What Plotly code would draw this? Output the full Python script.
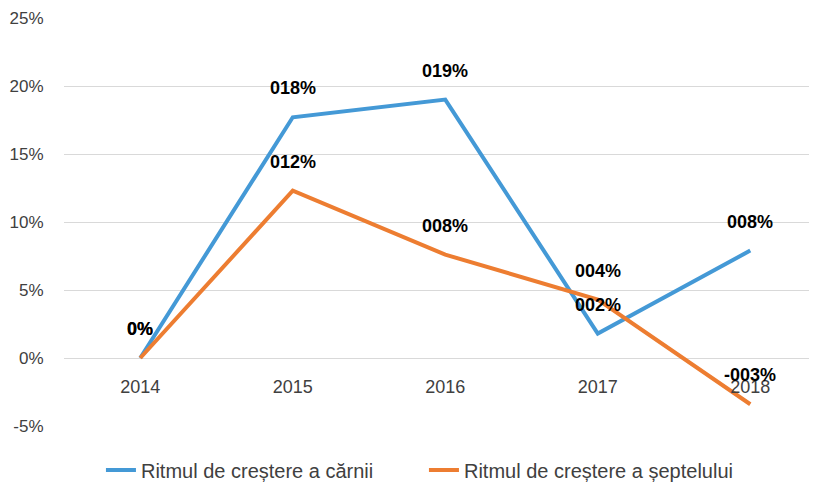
import plotly.graph_objects as go

years = ["2014", "2015", "2016", "2017", "2018"]
meat = [0.0, 17.7, 19.0, 1.8, 7.9]
livestock = [0.0, 12.3, 7.6, 4.3, -3.4]
meat_labels = ["0%", "018%", "019%", "002%", "008%"]
livestock_labels = ["0%", "012%", "008%", "004%", "-003%"]
y_ticks = [-5, 0, 5, 10, 15, 20, 25]
y_tick_text = ["-5%", "0%", "5%", "10%", "15%", "20%", "25%"]

BLUE = "#4499D6"
ORANGE = "#ED7D31"
FONT = "Liberation Sans"

fig = go.Figure()
fig.add_trace(go.Scatter(x=years, y=meat, mode="lines", name="Ritmul de creștere a cărnii",
                         line=dict(color=BLUE, width=4)))
fig.add_trace(go.Scatter(x=years, y=livestock, mode="lines", name="Ritmul de creștere a șeptelului",
                         line=dict(color=ORANGE, width=4)))

for ys, labs in [(meat, meat_labels), (livestock, livestock_labels)]:
    for i, (y, t) in enumerate(zip(ys, labs)):
        fig.add_annotation(x=i, y=y, xref="x", yref="y", text=f"<b>{t}</b>", showarrow=False,
                           yshift=29, font=dict(family=FONT, size=18, color="#000000"))

fig.update_layout(
    width=817, height=483,
    margin=dict(l=56, r=0, t=10, b=65, autoexpand=False),
    paper_bgcolor="white", plot_bgcolor="white",
    font=dict(family=FONT, size=18, color="#404040"),
    showlegend=True,
    legend=dict(orientation="h", x=0.473, xanchor="center", y=-0.108, yanchor="middle",
                entrywidth=278, entrywidthmode="pixels",
                font=dict(family=FONT, size=20, color="#404040")),
    xaxis=dict(type="category", range=[-0.5, 4.49], showgrid=False, showline=False,
               zeroline=False, anchor="free", position=1/6, ticks="outside", ticklen=12,
               tickcolor="rgba(0,0,0,0)", tickfont=dict(family=FONT, size=18, color="#404040")),
    yaxis=dict(range=[-5, 25], tickvals=y_ticks, ticktext=y_tick_text, showgrid=True,
               gridcolor="#D9D9D9", gridwidth=1, zeroline=False, showline=False,
               ticks="outside", ticklen=16, tickcolor="rgba(0,0,0,0)",
               tickfont=dict(family=FONT, size=17, color="#404040")),
)

fig.write_html("out.html")
